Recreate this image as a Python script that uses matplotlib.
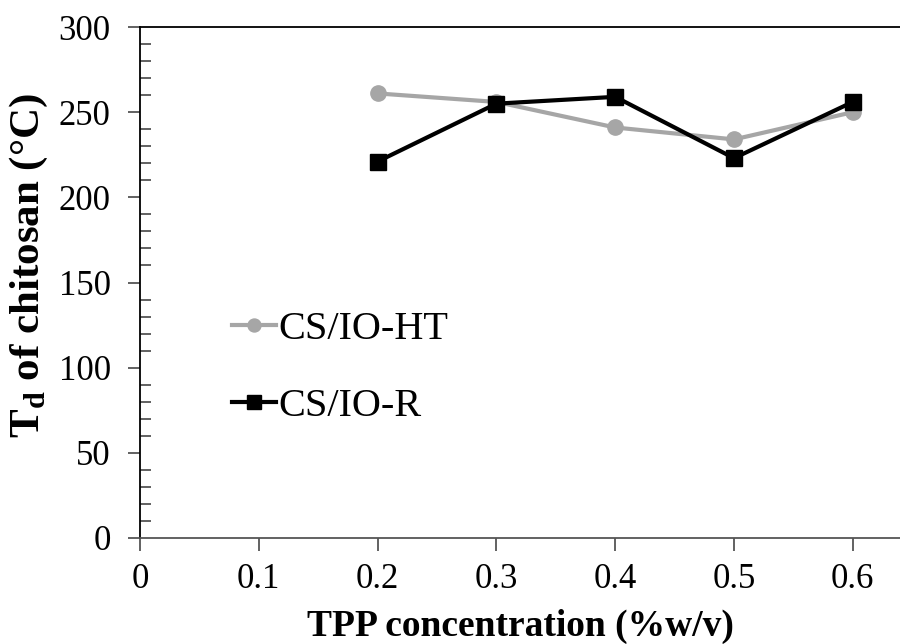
import matplotlib
matplotlib.use("Agg")
import matplotlib.pyplot as plt
from matplotlib.ticker import MultipleLocator, FixedLocator

plt.rcParams['font.family'] = ['Liberation Serif', 'DejaVu Serif']

tpp = [0.2, 0.3, 0.4, 0.5, 0.6]
ht_values = [261, 256, 241, 234, 250]
r_values = [221, 255, 259, 223, 256]
x_ticks = [0, 0.1, 0.2, 0.3, 0.4, 0.5, 0.6]
x_tick_labels = ['0', '0.1', '0.2', '0.3', '0.4', '0.5', '0.6']
y_ticks = [0, 50, 100, 150, 200, 250, 300]

fig = plt.figure(figsize=(9, 6.44), dpi=100)
ax = fig.add_axes([140/900, 1-538/644, 1-140/900, (538-27)/644])

ax.plot(tpp, ht_values, color='#A6A6A6', lw=3, marker='o', markersize=11,
        label='CS/IO-HT', zorder=3)
ax.plot(tpp, r_values, color='black', lw=3, marker='s', markersize=12,
        label='CS/IO-R', zorder=4)

ax.set_xlim(0, 760/1188)
ax.set_ylim(0, 300)
ax.xaxis.set_major_locator(FixedLocator(x_ticks))
ax.set_xticklabels(x_tick_labels)
ax.yaxis.set_major_locator(FixedLocator(y_ticks))
ax.yaxis.set_minor_locator(MultipleLocator(10))

ax.spines['right'].set_visible(False)
ax.spines['top'].set_visible(True)
ax.spines['top'].set_color('black')
ax.spines['left'].set_color('black')
ax.spines['bottom'].set_color('#555555')
for s in ax.spines.values():
    s.set_linewidth(1.3)

ax.tick_params(axis='y', which='major', direction='out', length=9, width=1.3,
               color='#555555', labelsize=25, pad=12)
ax.tick_params(axis='y', which='minor', direction='in', length=8, width=1.3,
               color='#555555')
ax.tick_params(axis='x', which='major', direction='out', length=9, width=1.3,
               color='#555555', labelsize=25, pad=9)

ax.set_xlabel('TPP concentration (%w/v)', fontsize=27, fontweight='bold', labelpad=9)
ax.set_ylabel(r'T$_\mathregular{d}$ of chitosan (°C)', fontsize=31, fontweight='bold')
ax.yaxis.set_label_coords(-0.118, (538-265)/511)

leg = ax.legend(loc='center left', bbox_to_anchor=(232/900, 1-368/644),
                bbox_transform=fig.transFigure, frameon=False, fontsize=29,
                handlelength=1.1, handletextpad=0.05, labelspacing=1.0,
                borderpad=0, borderaxespad=0, markerscale=0.85)

fig.savefig('out.png', dpi=100)
